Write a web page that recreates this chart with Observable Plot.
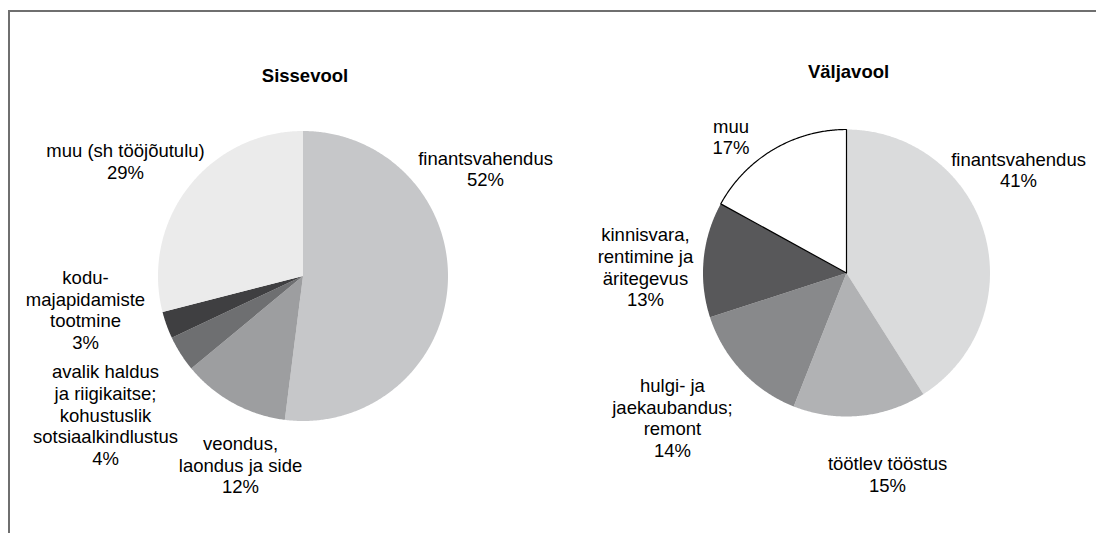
<!DOCTYPE html>
<html>
<head>
<meta charset="utf-8">
<script src="https://cdn.jsdelivr.net/npm/d3@7"></script>
<script src="https://cdn.jsdelivr.net/npm/@observablehq/plot@0.6"></script>
<style>
  html, body { margin: 0; padding: 0; background: #fff; overflow: hidden; }
  #wrap { position: relative; width: 1096px; height: 533px; overflow: hidden; }
  #frame { position: absolute; left: 8px; top: 10px; width: 1200px; height: 700px;
           border-top: 2px solid #6f6f6f; border-left: 2px solid #6f6f6f; box-sizing: border-box; }
  #chart { position: absolute; left: 0; top: 0; }
</style>
</head>
<body>
<div id="wrap"><div id="frame"></div><div id="chart"></div></div>
<script>
// ---------- data ----------
const inflowTitle = "Sissevool";
const inflowLabels = [
  "finantsvahendus",
  "veondus,\nlaondus ja side",
  "avalik haldus\nja riigikaitse;\nkohustuslik\nsotsiaalkindlustus",
  "kodu-\nmajapidamiste\ntootmine",
  "muu (sh tööjõutulu)"
];
const inflowValues = [52, 12, 4, 3, 29];

const outflowTitle = "Väljavool";
const outflowLabels = [
  "finantsvahendus",
  "töötlev tööstus",
  "hulgi- ja\njaekaubandus;\nremont",
  "kinnisvara,\nrentimine ja\näritegevus",
  "muu"
];
const outflowValues = [41, 15, 14, 13, 17];

// ---------- styles / layout ----------
const inflowColors  = ["#c6c7c9", "#9d9ea0", "#6e6f71", "#3f3f41", "#ebebeb"];
const outflowColors = ["#dadbdc", "#b1b2b4", "#88898b", "#58585a", "#ffffff"];
const outflowStrokes = ["none", "none", "none", "none", "#000000"];
const inflowStrokes  = ["none", "none", "none", "none", "none"];

// label offsets from pie centre, in units of radius
const inflowLabelOffsets  = [[1.259, -0.741], [-0.431, 1.303], [-1.362, 0.957], [-1.50, 0.232], [-1.224, -0.791]];
const outflowLabelOffsets = [[1.199, -0.721], [0.286, 1.401], [-1.213, 1.007], [-1.401, -0.042], [-0.805, -0.951]];

const pies = [
  {title: inflowTitle, labels: inflowLabels, values: inflowValues, colors: inflowColors,
   strokes: inflowStrokes, offsets: inflowLabelOffsets, cx: 302.5, cy: 275.5, r: 145, titleDy: -200},
  {title: outflowTitle, labels: outflowLabels, values: outflowValues, colors: outflowColors,
   strokes: outflowStrokes, offsets: outflowLabelOffsets, cx: 846, cy: 272.5, r: 143.5, titleDy: -200.5}
];

// ---------- build slice polygons & labels ----------
const slicePoints = [];
const labelRows = [];
const titleRows = [];
pies.forEach((p, pi) => {
  const arcs = d3.pie().sort(null).value(d => d)(p.values);
  arcs.forEach((a, i) => {
    const key = pi + "-" + i;
    const n = Math.max(2, Math.ceil((a.endAngle - a.startAngle) / (Math.PI / 360)));
    const fill = p.colors[i], stroke = p.strokes[i];
    slicePoints.push({key, x: p.cx, y: p.cy, fill, stroke});
    for (let k = 0; k <= n; k++) {
      const t = a.startAngle + (a.endAngle - a.startAngle) * k / n;
      slicePoints.push({key, x: p.cx + p.r * Math.sin(t), y: p.cy - p.r * Math.cos(t), fill, stroke});
    }
    slicePoints.push({key, x: p.cx, y: p.cy, fill, stroke});
    labelRows.push({
      x: p.cx + p.offsets[i][0] * p.r,
      y: p.cy + p.offsets[i][1] * p.r,
      text: p.labels[i] + "\n" + p.values[i] + "%"
    });
  });
  titleRows.push({x: p.cx + 2, y: p.cy + p.titleDy, text: p.title});
});

const chart = Plot.plot({
  width: 1096,
  height: 533,
  margin: 0,
  x: {domain: [0, 1096], range: [0, 1096], axis: null},
  y: {domain: [0, 533], range: [0, 533], axis: null},
  color: {type: "identity"},
  style: {fontFamily: "'Liberation Sans', Arial, Helvetica, sans-serif", fontSize: "18.5px", background: "transparent"},
  marks: [
    Plot.line(slicePoints, {x: "x", y: "y", z: "key", fill: "fill", stroke: "none", curve: "linear"}),
    Plot.line(slicePoints.filter(d => d.stroke !== "none"),
      {x: "x", y: "y", z: "key", stroke: "stroke", strokeWidth: 1.2, fill: "none", strokeLinejoin: "miter"}),
    Plot.text(labelRows, {x: "x", y: "y", text: "text", fontSize: 18.5, lineHeight: 1.17,
      textAnchor: "middle", fill: "#000"}),
    Plot.text(titleRows, {x: "x", y: "y", text: "text", fontSize: 18.5, fontWeight: "bold",
      textAnchor: "middle", fill: "#000"})
  ]
});
document.getElementById("chart").appendChild(chart);
</script>
</body>
</html>
